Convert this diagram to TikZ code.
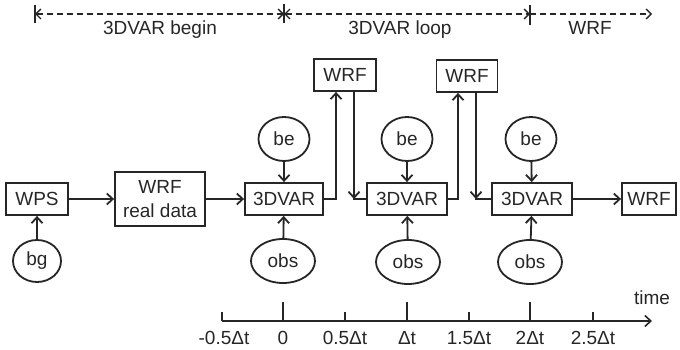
\documentclass[tikz,border=0pt]{standalone}
\usepackage{fontspec}
\setmainfont{Liberation Sans}
\usetikzlibrary{arrows.meta,shapes.geometric}
\begin{document}
\begin{tikzpicture}[x=1pt,y=-1pt,
  every node/.style={font=\fontsize{19}{21}\selectfont, text=black!85},
  box/.style={draw=black!85, line width=1.8pt, minimum height=32pt, inner sep=0pt},
  oval/.style={draw=black!85, ellipse, line width=1.8pt, inner sep=0pt},
  conn/.style={line width=1.8pt, draw=black!85},
  arr/.style={conn, -{Straight Barb[length=6pt,width=11pt,line width=1.8pt]}},
  dash line/.style={line width=1.3pt, draw=black!85, dash pattern=on 6pt off 4pt},
  lbl/.style={inner sep=0pt}]
\useasboundingbox (0,0) rectangle (680,350);

% top phases
\coordinate (t0) at (35,14);
\coordinate (t1) at (284,14);
\coordinate (t2) at (530,14);
\coordinate (t3) at (652,14);
\draw[line width=1.4pt, black!85] ([yshift=-9]t0) -- ([yshift=9]t0);
\draw[line width=1.4pt, black!85] ([yshift=-9]t1) -- ([yshift=10]t1);
\draw[line width=1.4pt, black!85] ([yshift=-11]t2) -- ([yshift=9]t2);
\draw[dash line, {Straight Barb[length=5pt,width=10pt,line width=1.3pt]}-{Straight Barb[length=5pt,width=10pt,line width=1.3pt]}] (t0) -- (t1);
\draw[dash line, {Straight Barb[length=5pt,width=10pt,line width=1.3pt]}-{Straight Barb[length=5pt,width=10pt,line width=1.3pt]}] (t1) -- (t2);
\draw[dash line, -{Straight Barb[length=5pt,width=10pt,line width=1.3pt]}] (t2) -- (t3);
\node[lbl] (ph1) at (160,30) {3DVAR begin};
\node[lbl] (ph2) at (400,30) {3DVAR loop};
\node[lbl] (ph3) at (590,28) {WRF};

% boxes
\node[box, minimum width=62pt] (wps) at (37,199) {WPS};
\node[box, minimum width=90pt, minimum height=54pt, align=center] (wrfreal) at (160,199) {WRF\\[3pt]real data};
\node[box, minimum width=78pt] (v1) at (284,199) {3DVAR};
\node[box, minimum width=80pt] (v2) at (407,199) {3DVAR};
\node[box, minimum width=80pt] (v3) at (532,199) {3DVAR};
\node[box, minimum width=54pt] (wrfend) at (649,199) {WRF};
\node[box, minimum width=62pt] (wt1) at (345,75) {WRF};
\node[box, minimum width=61pt] (wt2) at (467,76) {WRF};

% ellipses
\node[oval, minimum width=48pt, minimum height=42pt] (bg) at (37,261) {bg};
\node[oval, minimum width=51pt, minimum height=44pt] (be1) at (284,139) {be};
\node[oval, minimum width=51pt, minimum height=44pt] (be2) at (407,139) {be};
\node[oval, minimum width=51pt, minimum height=44pt] (be3) at (531,139) {be};
\node[oval, minimum width=64pt, minimum height=44pt] (obs1) at (283,261) {obs};
\node[oval, minimum width=64pt, minimum height=44pt] (obs2) at (408,262) {obs};
\node[oval, minimum width=64pt, minimum height=44pt] (obs3) at (530,262) {obs};

% connectors
\draw[arr] (bg) -- (wps);
\draw[arr] (wps) -- (wrfreal);
\draw[arr] (wrfreal) -- (v1);
\draw[arr] (be1) -- (v1);
\draw[arr] (obs1) -- (v1);
\draw[arr] (be2) -- (v2);
\draw[arr] (obs2) -- (v2);
\draw[arr] (be3) -- (v3);
\draw[arr] (obs3) -- (v3);
\draw[arr] (v1.east) -| ([xshift=-9pt]wt1.south);
\coordinate (c1) at ([xshift=9pt]wt1.south |- v2.west);
\draw[arr] ([xshift=9pt]wt1.south) -- (c1);
\draw[conn] ([xshift=-0.9pt]c1) -- (v2.west);
\draw[arr] (v2.east) -| ([xshift=-9pt]wt2.south);
\coordinate (c2) at ([xshift=9pt]wt2.south |- v3.west);
\draw[arr] ([xshift=9pt]wt2.south) -- (c2);
\draw[conn] ([xshift=-0.9pt]c2) -- (v3.west);
\draw[arr] (v3) -- (wrfend);

% time axis
\coordinate (a0) at (222,321);
\coordinate (a1) at (652,321);
\draw[conn, line width=1.6pt, -{Straight Barb[length=6pt,width=11pt,line width=1.6pt]}] (a0) -- (a1);
\foreach \x/\h in {222/9, 283/19, 345/9, 407/19, 469/9, 530/19, 593/9}{
  \draw[line width=1.6pt, black!85] (\x,321) -- (\x,321-\h);
}
\node[lbl] (l1) at (224,338) {-0.5Δt};
\node[lbl] (l2) at (283,338) {0};
\node[lbl] (l3) at (345,338) {0.5Δt};
\node[lbl] (l4) at (407,338) {Δt};
\node[lbl] (l5) at (469,338) {1.5Δt};
\node[lbl] (l6) at (530,338) {2Δt};
\node[lbl] (l7) at (593,338) {2.5Δt};
\node[lbl] (time) at (652,298) {time};
\end{tikzpicture}
\end{document}
